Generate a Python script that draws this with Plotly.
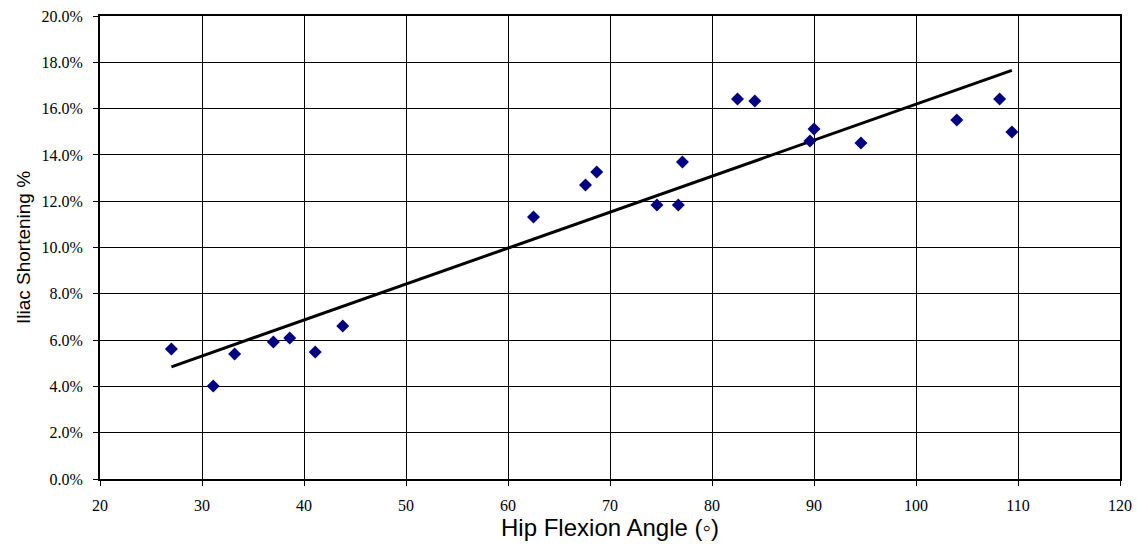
import numpy as np
import plotly.graph_objects as go

# Hip flexion angle (degrees)
angle = [27.0, 31.1, 33.2, 37.0, 38.6, 41.1, 43.8, 62.5, 67.6, 68.7, 74.6, 76.7, 77.1,
         82.5, 84.2, 89.6, 90.0, 94.6, 104.0, 108.2, 109.4]
# Iliac shortening (fraction)
shortening = [0.0562, 0.0402, 0.0540, 0.0592, 0.0609, 0.0549, 0.0661, 0.1132, 0.1270,
              0.1326, 0.1184, 0.1184, 0.1369, 0.1641, 0.1633, 0.1460, 0.1512, 0.1451,
              0.1551, 0.1641, 0.1499]

x_ticks = list(range(20, 121, 10))
y_ticks = [i * 0.02 for i in range(11)]

slope, intercept = np.polyfit(angle, shortening, 1)
tx = np.array([min(angle), max(angle)])
ty = slope * tx + intercept

fig = go.Figure()
fig.add_trace(go.Scatter(x=tx, y=ty, mode="lines",
                         line=dict(color="black", width=3), showlegend=False, hoverinfo="skip"))
fig.add_trace(go.Scatter(x=angle, y=shortening, mode="markers",
                         marker=dict(symbol="diamond", size=10, color="#000080"),
                         showlegend=False))

tick_font = dict(family="Liberation Serif", size=16, color="black")
fig.update_layout(
    width=1137, height=544,
    margin=dict(l=100, r=17, t=16, b=65, autoexpand=False),
    paper_bgcolor="white", plot_bgcolor="white",
    xaxis=dict(range=[20, 120], tickvals=x_ticks, ticktext=[str(v) for v in x_ticks],
               showgrid=True, gridcolor="black", gridwidth=1,
               showline=True, linecolor="black", linewidth=2, mirror=True,
               ticks="outside", ticklen=5, tickcolor="black", tickwidth=1,
               tickfont=tick_font, zeroline=False, automargin=False,
               ticklabelstandoff=6,
               title=dict(text="Hip Flexion Angle (◦)",
                          font=dict(family="Liberation Sans", size=24, color="black"),
                          standoff=5)),
    yaxis=dict(range=[0, 0.2], tickvals=y_ticks, tickformat=".1%",
               showgrid=True, gridcolor="black", gridwidth=1,
               showline=True, linecolor="black", linewidth=2, mirror=True,
               ticks="outside", ticklen=5, tickcolor="black", tickwidth=1,
               tickfont=tick_font, zeroline=False, automargin=False,
               ticklabelstandoff=7,
               title=dict(text="Iliac Shortening %",
                          font=dict(family="Liberation Sans", size=19, color="black"),
                          standoff=6)),
)
fig.write_html("out.html", config={"displayModeBar": False},
               post_script="document.body.style.margin='0';")
